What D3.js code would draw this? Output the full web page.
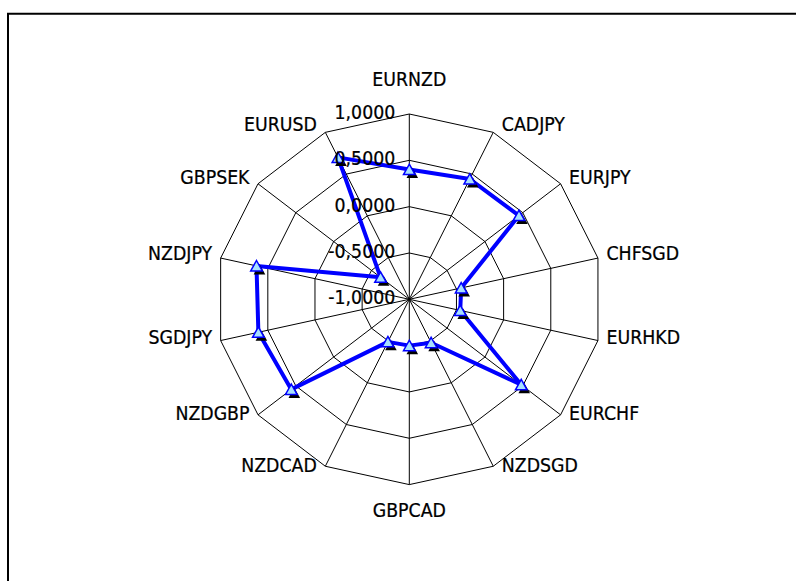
<!DOCTYPE html>
<html><head><meta charset="utf-8">
<script src="https://cdn.jsdelivr.net/npm/d3@7"></script>
<style>
html,body{margin:0;padding:0;background:#fff;overflow:hidden;scrollbar-width:none}
::-webkit-scrollbar{display:none;width:0;height:0}
svg{display:block;position:fixed;left:0;top:0}
</style>
</head><body>
<script>
const categories = ["EURNZD","CADJPY","EURJPY","CHFSGD","EURHKD","EURCHF","NZDSGD","GBPCAD","NZDCAD","NZDGBP","SGDJPY","NZDJPY","GBPSEK","EURUSD"];
const values = [0.40,0.44,0.45,-0.45,-0.46,0.48,-0.48,-0.50,-0.49,0.56,0.60,0.62,-0.62,0.70];
const tickValues = [-1,-0.5,0,0.5,1];
const tickLabels = ["-1,0000","-0,5000","0,0000","0,5000","1,0000"];

const W=796,H=581, cx=409.3, cy=299.3, RX=193.5, RY=185.3;
const FONT="DejaVu Sans", FS=19.3, SX=0.9;
const svg = d3.select("body").append("svg").attr("width",W).attr("height",H);
svg.append("rect").attr("width",W).attr("height",H).attr("fill","#fff");
svg.append("path").attr("d",`M8,${H+5}V13.7H${W+5}`)
  .attr("fill","none").attr("stroke","#000").attr("stroke-width",2);

const n = categories.length;
const rScale = d3.scaleLinear().domain([-1,1]).range([0,1]);
const aScale = d3.scaleLinear().domain([0,n]).range([0,2*Math.PI]);
function pt(i,v){const a=aScale(i),k=rScale(v);return [cx+RX*k*Math.sin(a), cy-RY*k*Math.cos(a)];}

const grid = svg.append("g").attr("fill","none").attr("stroke","#000").attr("stroke-width",1);
tickValues.filter(v=>rScale(v)>0).forEach(v=>{
  grid.append("path").attr("d", d3.line().curve(d3.curveLinearClosed)(d3.range(n).map(i=>pt(i,v))));
});
d3.range(n).forEach(i=>{
  const p=pt(i,1);
  grid.append("line").attr("x1",cx).attr("y1",cy).attr("x2",p[0]).attr("y2",p[1]);
});

function addText(x,y,txt,anchor){
  svg.append("g").attr("transform",`translate(${x},${y}) scale(${SX},1)`)
    .append("text").attr("text-anchor",anchor).attr("dy","0.36em")
    .attr("font-family",FONT).attr("font-size",FS).attr("fill","#000")
    .attr("stroke","#000").attr("stroke-width",0.25).text(txt);
}

svg.append("path")
  .attr("d", d3.line().curve(d3.curveLinearClosed)(values.map((v,i)=>pt(i,v))))
  .attr("fill","none").attr("stroke","#0000ff").attr("stroke-width",4).attr("stroke-linejoin","round");

const tri = "M0,-5.4L5.8,5L-5.8,5Z";
values.forEach((v,i)=>{
  const p=pt(i,v);
  svg.append("path").attr("d",tri).attr("transform",`translate(${p[0]+3},${p[1]+3.5})`).attr("fill","#000");
});
values.forEach((v,i)=>{
  const p=pt(i,v);
  svg.append("path").attr("d",tri).attr("transform",`translate(${p[0]},${p[1]})`)
    .attr("fill","#a8e0ff").attr("stroke","#0000ff").attr("stroke-width",1.5);
});

tickValues.forEach((v,j)=>{
  addText(cx-14, cy-RY*rScale(v)-2, tickLabels[j], "end");
});

categories.forEach((c,i)=>{
  const a=aScale(i), s=Math.sin(a), co=Math.cos(a);
  const p=pt(i,1);
  if(Math.abs(s)<0.1){
    addText(p[0], p[1]-co*30-4.6, c, "middle");
  } else {
    addText(p[0]+Math.sign(s)*8.5, p[1]-4.6-4*co, c, s>0?"start":"end");
  }
});
</script>
</body></html>
